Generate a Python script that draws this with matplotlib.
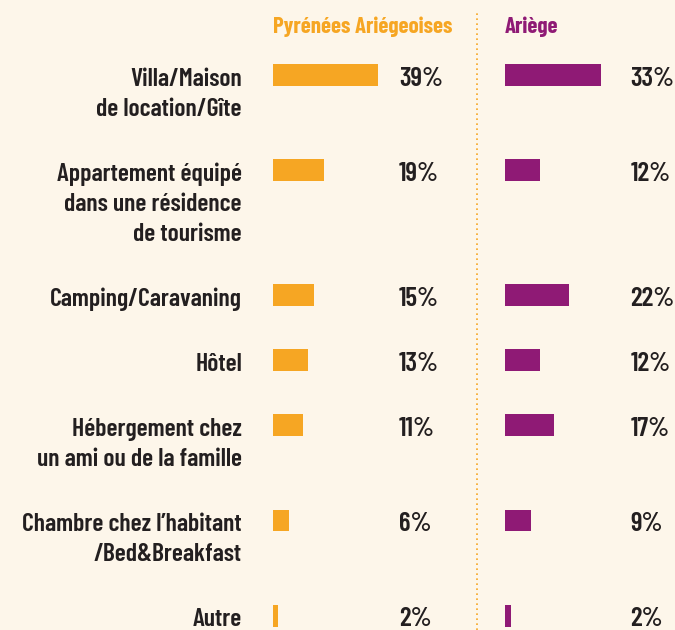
import matplotlib
matplotlib.use('Agg')
import matplotlib.pyplot as plt
from matplotlib.lines import Line2D
from matplotlib.transforms import blended_transform_factory

# ─── DATA ────────────────────────────────────────────────────────────────────
LABELS = [
    ["Villa/Maison", "de location/Gîte"],
    ["Appartement équipé", "dans une résidence", "de tourisme"],
    ["Camping/Caravaning"],
    ["Hôtel"],
    ["Hébergement chez", "un ami ou de la famille"],
    ["Chambre chez l’habitant", "/Bed&Breakfast"],
    ["Autre"],
]
PYRENEES = [39, 19, 15, 13, 11, 6, 2]
ARIEGE = [33, 12, 22, 12, 17, 9, 2]
SERIES = ["Pyrénées Ariégeoises", "Ariège"]

# ─── STYLE ───────────────────────────────────────────────────────────────────
BG = '#fdf6ea'; ORANGE = '#f6a623'; PURPLE = '#8f1a75'; INK = '#231f20'
FONT = ['Barlow Condensed', 'Roboto Condensed', 'DejaVu Sans']
W, H = 675, 630
LINE = 30          # px per line of label text
GAP = 1.17         # blank space between rows, in lines

# row centres (in line units) follow the number of label lines
pos = []
y = 2.5
for lines in LABELS:
    pos.append(y)
    y += len(lines) + GAP

fig = plt.figure(figsize=(W / 100, H / 100), dpi=100, facecolor=BG)

ax_l = fig.add_axes([273 / W, 0, 197 / W, 1])
ax_l.set_xlim(0, 197 / 2.7)
ax_r = fig.add_axes([505 / W, 0, 170 / W, 1])
ax_r.set_xlim(0, 170 / 2.9)
for ax in (ax_l, ax_r):
    ax.set_ylim(H / LINE, 0)
    ax.set_axis_off()
    ax.patch.set_alpha(0)

ax_l.barh(pos, PYRENEES, height=0.73, color=ORANGE)
ax_r.barh(pos, ARIEGE, height=0.73, color=PURPLE)

tr = blended_transform_factory(fig.transFigure, ax_l.transData)
lab = dict(transform=tr, va='baseline', fontsize=18.5, fontweight=600, color=INK, family=FONT)
num = dict(transform=tr, va='baseline', fontsize=19.5, fontweight=600, color=INK, family=FONT)
for p, lines, a, b in zip(pos, LABELS, PYRENEES, ARIEGE):
    for k, line in enumerate(lines):
        ax_l.text(242 / W, p + 0.35 + k, line, ha='right', **lab)
    ax_l.text(399 / W, p + 0.35, f"{a}%", ha='left', **num)
    ax_l.text(630.5 / W, p + 0.35, f"{b}%", ha='left', **num)

# headers
fig.text(273 / W, 1 - 33 / H, SERIES[0], color=ORANGE, va='baseline',
         fontsize=16.5, fontweight='bold', family=FONT)
fig.text(505 / W, 1 - 33 / H, SERIES[1], color=PURPLE, va='baseline',
         fontsize=16.5, fontweight='bold', family=FONT)

# dotted separator
fig.add_artist(Line2D([477 / W, 477 / W], [0, 1 - 10 / H], transform=fig.transFigure,
                      color=ORANGE, linestyle=(0, (1, 2)), linewidth=1.2))

fig.savefig('out.png', dpi=100, facecolor=BG)
